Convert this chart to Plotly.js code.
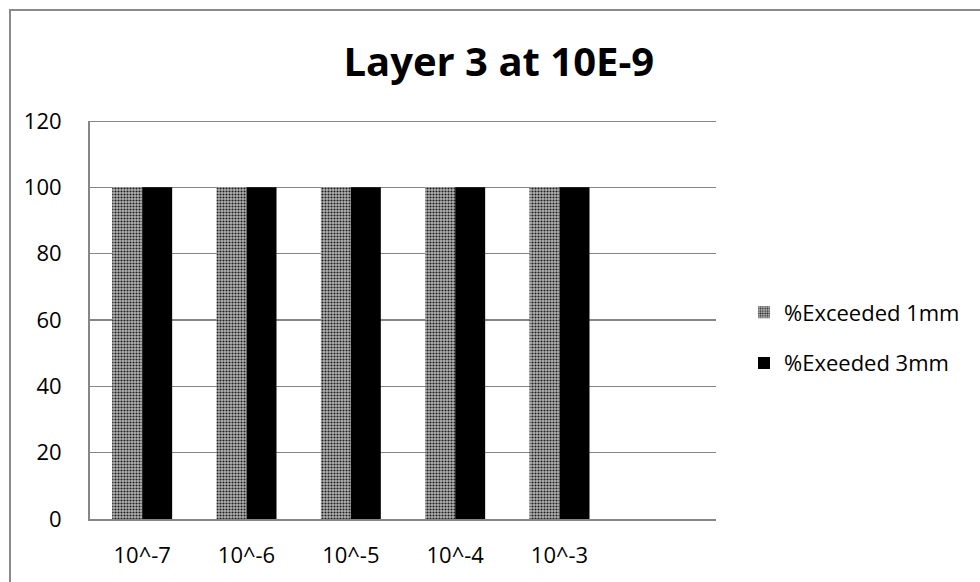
<!DOCTYPE html>
<html>
<head>
<meta charset="utf-8">
<script src="https://cdn.plot.ly/plotly-3.0.1.min.js"></script>
<style>
  html, body { margin: 0; padding: 0; background: #fff; overflow: hidden; }
  #frame { position: absolute; left: 0; top: 0; width: 980px; height: 582px; }
  #frame::before {
    content: ""; position: absolute; left: 9px; top: 9px; right: -10px; bottom: -10px;
    border-left: 2px solid #8a8a8a; border-top: 2px solid #8a8a8a; pointer-events: none; z-index: 5;
  }
  #chart { position: absolute; left: 0; top: 0; width: 980px; height: 582px; }
</style>
</head>
<body>
<div id="frame"><div id="chart"></div></div>
<script>
// Exposure levels on the horizontal axis (last slot is left empty)
const categories = ['10^-7', '10^-6', '10^-5', '10^-4', '10^-3'];
// Percentage of runs exceeding each displacement threshold
const exceeded1mm = [100, 100, 100, 100, 100];
const exceeded3mm = [100, 100, 100, 100, 100];
const yTicks = [0, 20, 40, 60, 80, 100, 120];

const font = '"Open Sans", sans-serif';
const gridColor = '#868686';

const traces = [
  {
    type: 'bar', name: '%Exceeded 1mm', x: categories, y: exceeded1mm,
    legendgroup: 'a',
    marker: {
      color: '#8c8c8c', line: {width: 0},
      pattern: {shape: '.', fgcolor: '#1e1e1e', bgcolor: '#b4b4b4', size: 3, solidity: 0.4}
    }
  },
  {
    type: 'bar', name: '%Exeeded 3mm', x: categories, y: exceeded3mm,
    legendgroup: 'b',
    marker: {color: '#000000', line: {width: 0}}
  }
];

const yMax = yTicks[yTicks.length - 1];

const layout = {
  width: 980, height: 582,
  margin: {l: 90, r: 264, t: 121, b: 63, pad: 0},
  paper_bgcolor: '#ffffff', plot_bgcolor: '#ffffff',
  font: {family: font, size: 22, color: '#000'},
  title: {
    text: '<b>Layer 3 at 10E-9</b>',
    font: {family: font, size: 40, color: '#000'},
    x: 0.509, xanchor: 'center', y: 1 - 62 / 582, yanchor: 'middle'
  },
  barmode: 'group', bargap: 0.425, bargroupgap: 0,
  xaxis: {
    type: 'category', categoryorder: 'array', categoryarray: categories,
    range: [-0.5, 5.5], showgrid: false, zeroline: false,
    showline: true, linecolor: gridColor, linewidth: 2,
    ticks: '', ticklabelstandoff: 16,
    tickfont: {family: font, size: 22, color: '#000'}
  },
  yaxis: {
    range: [0, yMax], tickvals: yTicks, ticktext: yTicks.map(String),
    showgrid: true, gridcolor: gridColor, gridwidth: 1.5,
    zeroline: false, showline: true, linecolor: gridColor, linewidth: 2,
    ticks: '', ticklabelstandoff: 22,
    tickfont: {family: font, size: 22, color: '#000'}
  },
  // top gridline sits on the edge of the plot area, so draw it explicitly
  shapes: [{
    type: 'line', xref: 'paper', yref: 'y', x0: 0, x1: 1, y0: yMax, y1: yMax,
    line: {color: gridColor, width: 2}, layer: 'below'
  }],
  showlegend: true,
  legend: {
    xref: 'container', yref: 'container',
    x: 744 / 980, xanchor: 'left', y: 1 - 338 / 582, yanchor: 'middle',
    traceorder: 'grouped', tracegroupgap: 19,
    font: {family: font, size: 22, color: '#000'},
    itemwidth: 30, bgcolor: 'rgba(0,0,0,0)'
  }
};

Plotly.newPlot('chart', traces, layout, {staticPlot: true, displayModeBar: false});
</script>
</body>
</html>
